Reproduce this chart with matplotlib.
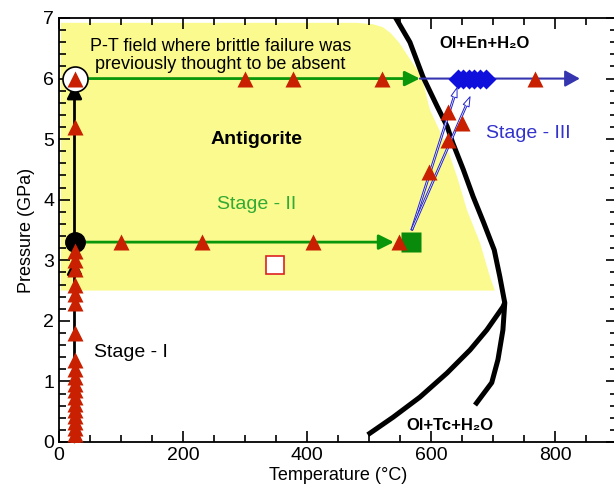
import matplotlib
matplotlib.use("Agg")
import matplotlib.pyplot as plt
from matplotlib.patches import Polygon
from matplotlib.ticker import MultipleLocator

plt.rcParams['font.family'] = ['Liberation Sans', 'DejaVu Sans']

# --- datos ---
# campo P-T (amarillo)
campo_T = [3, 480, 505, 522, 535, 548, 585, 598, 623, 642, 658, 679, 695, 703, 3]
campo_P = [6.92, 6.92, 6.9, 6.85, 6.75, 6.6, 6.03, 5.49, 4.94, 4.38, 3.83, 3.29, 2.73, 2.5, 2.5]

# limite de estabilidad de la antigorita
limite_T = [542, 566, 587, 610, 626, 635, 652, 668, 685, 702, 711, 718, 719,
            716, 708, 698, 671]
limite_P = [7.02, 6.60, 6.03, 5.54, 5.21, 4.94, 4.50, 4.05, 3.62, 3.17, 2.73, 2.35, 2.30,
            1.85, 1.36, 0.98, 0.61]
rama_T = [719, 716, 690, 663, 626, 582, 539, 498]
rama_P = [2.30, 2.23, 1.85, 1.52, 1.14, 0.74, 0.41, 0.12]

# Stage I (T ambiente)
T_amb = 25
stage1_P = [0.03, 0.13, 0.23, 0.33, 0.43, 0.53, 0.63, 0.75, 0.86, 0.96, 1.07,
            1.2, 1.36, 1.8, 2.3, 2.45, 2.6, 2.85, 3.0, 3.15, 5.2, 6.0]

# Stage II
P_bajo = 3.3
stage2_T_bajo = [100, 230, 410, 548]
P_alto = 6.0
stage2_T_alto = [300, 377, 521]

# Stage III
stage3_T = [627, 650, 627, 597, 768]
stage3_P = [5.44, 5.27, 4.99, 4.46, 6.0]
diamantes_T = [643, 652, 661, 670, 679, 688]

rojo = '#c82000'
verde = '#0a960a'
azul = '#3535b0'

fig = plt.figure(figsize=(6.14, 4.96), dpi=100)
ax = fig.add_axes([59 / 614, 54 / 496, 558 / 614, 424 / 496])
ax.set_xlim(0, 900)
ax.set_ylim(0, 7)

ax.add_patch(Polygon(list(zip(campo_T, campo_P)), closed=True,
                     facecolor='#fafa8e', edgecolor='none', zorder=0))

ax.plot(limite_T, limite_P, color='black', lw=3.6, solid_capstyle='butt',
        solid_joinstyle='round', zorder=2)
ax.plot(rama_T, rama_P, color='black', lw=3.6, solid_capstyle='butt',
        solid_joinstyle='round', zorder=2)

# flechas
def flecha(x0, y0, x1, y1, color, lw=2.0, hw=0.45):
    ax.annotate('', xy=(x1, y1), xytext=(x0, y0),
                arrowprops=dict(arrowstyle=f'-|>,head_width={hw},head_length=0.9',
                                color=color, lw=lw, shrinkA=0, shrinkB=0),
                zorder=3)

flecha(T_amb, 0, T_amb, 3.02, 'black')
flecha(T_amb, P_bajo, T_amb, 5.92, 'black')
flecha(T_amb, P_bajo, 540, P_bajo, verde)
flecha(48, P_alto, 582, P_alto, verde)
flecha(582, P_alto, 840, P_alto, azul, lw=1.5, hw=0.5)

for x1, y1 in [(642, 5.85), (663, 5.70)]:
    ax.annotate('', xy=(x1, y1), xytext=(569, 3.5),
                arrowprops=dict(arrowstyle='simple,head_width=0.45,head_length=0.7,tail_width=0.12',
                                fc='white', ec='#2222cc', lw=0.7, shrinkA=0, shrinkB=0),
                zorder=5)

ax.plot(diamantes_T, [P_alto] * len(diamantes_T), 'D', color='#1010dd',
        ms=10, mec='none', zorder=4)

ax.plot([567], [P_bajo], 's', color='#0a8a0a', ms=14, mec='none', zorder=3)
ax.plot([348], [2.93], 's', color='white', mec='#dd2222', ms=13, mew=1.2, zorder=3)

ax.plot([T_amb], [P_bajo], 'o', color='black', ms=14, zorder=3)
ax.plot([T_amb], [P_alto], 'o', color='white', mec='black', ms=18, mew=1.2, zorder=3)

tri = dict(marker='^', ls='none', color=rojo, ms=11.5, mec='none', zorder=6)
ax.plot([T_amb] * len(stage1_P), stage1_P, **tri)
ax.plot(stage2_T_bajo, [P_bajo] * len(stage2_T_bajo), **tri)
ax.plot(stage2_T_alto, [P_alto] * len(stage2_T_alto), **tri)
ax.plot(stage3_T, stage3_P, **tri)

# textos
ax.text(260, 6.38, 'P-T field where brittle failure was\npreviously thought to be absent',
        ha='center', va='center', fontsize=13, linespacing=1.1)
ax.text(318, 5.0, 'Antigorite', ha='center', va='center', fontsize=14, fontweight='bold')
ax.text(318, 3.92, 'Stage - II', ha='center', va='center', fontsize=14, color='#33aa33')
ax.text(757, 5.1, 'Stage - III', ha='center', va='center', fontsize=14, color='#3333cc')
ax.text(56, 1.47, 'Stage - I', ha='left', va='center', fontsize=14)
ax.text(687, 6.58, 'Ol+En+H\u2082O', ha='center', va='center', fontsize=12, fontweight='bold')
ax.text(631, 0.28, 'Ol+Tc+H\u2082O', ha='center', va='center', fontsize=12, fontweight='bold')

ax.set_xlabel('Temperature (\u00b0C)', fontsize=13, labelpad=2)
ax.set_ylabel('Pressure (GPa)', fontsize=13, labelpad=6)

ax.xaxis.set_major_locator(MultipleLocator(200))
ax.xaxis.set_minor_locator(MultipleLocator(50))
ax.yaxis.set_major_locator(MultipleLocator(1))
ax.yaxis.set_minor_locator(MultipleLocator(0.2))
ax.tick_params(which='both', direction='in', top=True, right=True, labelsize=14, width=1.2)
ax.tick_params(which='major', length=8)
ax.tick_params(which='minor', length=5)
for s in ax.spines.values():
    s.set_linewidth(1.3)

fig.savefig('out.png', dpi=100)
